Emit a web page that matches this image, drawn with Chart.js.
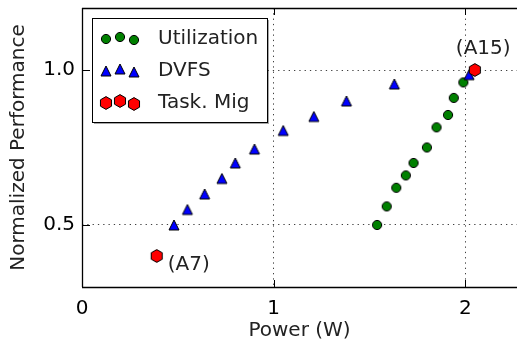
<!DOCTYPE html>
<html>
<head>
<meta charset="utf-8">
<script src="https://cdn.jsdelivr.net/npm/chart.js@4.4.0/dist/chart.umd.min.js"></script>
<style>
  html, body { margin: 0; padding: 0; background: #fff; }
  #wrap { width: 517px; height: 344px; }
</style>
</head>
<body>
<div id="wrap"><canvas id="perfChart" width="517" height="344"></canvas></div>
<script>
// values
const utilPower = [1.54, 1.59, 1.64, 1.69, 1.73, 1.80, 1.85, 1.91, 1.94, 1.99, 2.05];
const utilPerf  = [0.50, 0.56, 0.62, 0.66, 0.70, 0.75, 0.815, 0.855, 0.91, 0.96, 1.00];
const dvfsPower = [0.48, 0.55, 0.64, 0.73, 0.80, 0.90, 1.05, 1.21, 1.38, 1.63, 2.02];
const dvfsPerf  = [0.50, 0.55, 0.60, 0.65, 0.70, 0.745, 0.805, 0.85, 0.90, 0.955, 0.985];
const migPower  = [0.39, 2.05];
const migPerf   = [0.40, 1.00];
const migNames  = ['(A7)', '(A15)'];
const seriesNames = ['Utilization', 'DVFS', 'Task. Mig'];
const xTicks = [0, 1, 2];
const yTicks = [0.5, 1.0];

const FONT = 'DejaVu Sans';

// small canvases with matplotlib-like markers
function makeMarker(shape, fill) {
  const size = 16;
  const c = document.createElement('canvas');
  c.width = size; c.height = size;
  const g = c.getContext('2d');
  const m = size / 2;
  g.beginPath();
  if (shape === 'circle') {
    g.arc(m, m, 4.6, 0, Math.PI * 2);
  } else if (shape === 'triangle') {
    const r = 5;
    g.moveTo(m, m - r);
    g.lineTo(m + r, m + r);
    g.lineTo(m - r, m + r);
  } else {
    const R = 6.4;
    for (let i = 0; i < 6; i++) {
      const a = (-90 + 60 * i) * Math.PI / 180;
      const px = m + R * Math.cos(a), py = m + R * Math.sin(a);
      if (i === 0) g.moveTo(px, py); else g.lineTo(px, py);
    }
  }
  g.closePath();
  g.fillStyle = fill;
  g.fill();
  g.lineWidth = 1;
  g.strokeStyle = '#000';
  g.stroke();
  return c;
}

const markers = [
  makeMarker('circle', '#008000'),
  makeMarker('triangle', '#0000ff'),
  makeMarker('hexagon', '#ff0000')
];

function toPoints(xs, ys) {
  return xs.map((x, i) => ({ x: x, y: ys[i] }));
}

// spines, inward ticks, annotations and the in-axes legend
const decorations = {
  id: 'decorations',
  afterDraw(chart) {
    const { ctx, chartArea: a, scales } = chart;
    const xs = scales.x, ys = scales.y;
    ctx.save();

    // inward ticks
    ctx.strokeStyle = '#000';
    ctx.lineWidth = 1;
    ctx.beginPath();
    xTicks.forEach(v => {
      const px = Math.round(xs.getPixelForValue(v)) + 0.5;
      ctx.moveTo(px, a.bottom); ctx.lineTo(px, a.bottom - 7);
      ctx.moveTo(px, a.top); ctx.lineTo(px, a.top + 7);
    });
    yTicks.forEach(v => {
      const py = Math.round(ys.getPixelForValue(v)) + 0.5;
      ctx.moveTo(a.left, py); ctx.lineTo(a.left + 8, py);
    });
    ctx.stroke();

    // spines
    ctx.lineWidth = 1.3;
    ctx.beginPath();
    ctx.moveTo(a.left + 0.5, a.top);
    ctx.lineTo(a.left + 0.5, a.bottom);
    ctx.moveTo(a.left, a.top + 0.5);
    ctx.lineTo(a.right, a.top + 0.5);
    ctx.moveTo(a.left, a.bottom + 0.5);
    ctx.lineTo(a.right, a.bottom + 0.5);
    ctx.stroke();

    // point labels
    ctx.fillStyle = '#222';
    ctx.font = '20px "' + FONT + '"';
    ctx.textBaseline = 'middle';
    ctx.textAlign = 'left';
    const offs = [[11, 9], [-19, -21]];
    migNames.forEach((name, i) => {
      const px = xs.getPixelForValue(migPower[i]);
      const py = ys.getPixelForValue(migPerf[i]);
      ctx.fillText(name, px + offs[i][0], py + offs[i][1]);
    });

    // legend
    const lx = a.left + 10, ly = a.top + 10, lw = 175, lh = 104;
    ctx.fillStyle = 'rgba(0,0,0,0.35)';
    ctx.fillRect(lx + 2, ly + 2, lw, lh);
    ctx.fillStyle = '#fff';
    ctx.fillRect(lx, ly, lw, lh);
    ctx.strokeStyle = '#000';
    ctx.lineWidth = 1;
    ctx.strokeRect(lx + 0.5, ly + 0.5, lw, lh);
    const yOff = [0, -2.5, 1];
    seriesNames.forEach((name, i) => {
      const ry = ly + 21 + i * 32;
      for (let k = 0; k < 3; k++) {
        const mk = markers[i];
        ctx.drawImage(mk, Math.round(lx + 14 + k * 14 - mk.width / 2), Math.round(ry + yOff[k] - mk.height / 2));
      }
      ctx.fillStyle = '#222';
      ctx.fillText(name, lx + 66, ry);
    });
    ctx.restore();
  }
};

const gridColor = (ctx) => (ctx.tick && ctx.tick.value === 0 ? 'rgba(0,0,0,0)' : 'rgba(0,0,0,0.75)');

new Chart(document.getElementById('perfChart'), {
  type: 'scatter',
  data: {
    datasets: [
      { label: seriesNames[0], data: toPoints(utilPower, utilPerf), pointStyle: markers[0], order: 3 },
      { label: seriesNames[1], data: toPoints(dvfsPower, dvfsPerf), pointStyle: markers[1], order: 2 },
      { label: seriesNames[2], data: toPoints(migPower, migPerf), pointStyle: markers[2], order: 1 }
    ]
  },
  options: {
    responsive: false,
    devicePixelRatio: 1,
    animation: false,
    layout: { autoPadding: false, padding: { top: 8, right: 0, bottom: 0, left: 0 } },
    plugins: {
      legend: { display: false },
      tooltip: { enabled: false }
    },
    scales: {
      x: {
        type: 'linear',
        min: 0,
        max: 2.27,
        afterBuildTicks: (s) => { s.ticks = xTicks.map(v => ({ value: v })); },
        afterFit: (s) => { s.height = 57; s.paddingLeft = 0; s.paddingRight = 0; },
        grid: { color: gridColor, lineWidth: 1, drawTicks: false },
        border: { display: false, dash: [1.3, 4] },
        ticks: {
          color: '#000',
          padding: 10,
          maxRotation: 0,
          font: { family: FONT, size: 20, lineHeight: 1.2 },
          callback: (v) => String(v)
        },
        title: {
          display: true,
          text: 'Power (W)',
          color: '#222',
          padding: { top: 0, bottom: 1 },
          font: { family: FONT, size: 20, lineHeight: 1.2 }
        }
      },
      y: {
        type: 'linear',
        min: 0.3,
        max: 1.2,
        afterBuildTicks: (s) => { s.ticks = yTicks.map(v => ({ value: v })); },
        afterFit: (s) => { s.width = 82; s.paddingTop = 0; s.paddingBottom = 0; },
        grid: { color: gridColor, lineWidth: 1, drawTicks: false },
        border: { display: false, dash: [1.3, 4] },
        ticks: {
          color: '#000',
          padding: 7,
          font: { family: FONT, size: 20, lineHeight: 1.2 },
          callback: (v) => Number(v).toFixed(1)
        },
        title: {
          display: true,
          text: 'Normalized Performance',
          color: '#222',
          padding: { top: 6.5, bottom: 0 },
          font: { family: FONT, size: 20, lineHeight: 1.2 }
        }
      }
    }
  },
  plugins: [decorations]
});
</script>
</body>
</html>
